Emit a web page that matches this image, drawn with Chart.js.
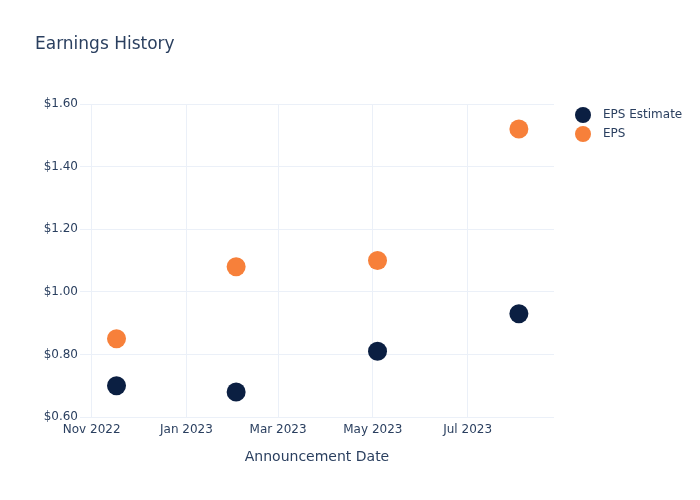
<!DOCTYPE html>
<html>
<head>
<meta charset="utf-8">
<script src="https://cdn.jsdelivr.net/npm/chart.js@4"></script>
<style>
  html, body { margin: 0; padding: 0; background: #fff; }
</style>
</head>
<body>
<canvas id="earnings-chart" width="700" height="500"></canvas>
<script>
// announcement dates and values
const announceDates = ['2022-11-17', '2023-02-02', '2023-05-04', '2023-08-03'];
const epsEstimate = [0.70, 0.68, 0.81, 0.93];
const epsActual = [0.85, 1.08, 1.10, 1.52];
const tickDates = ['2022-11-01', '2023-01-01', '2023-03-01', '2023-05-01', '2023-07-01'];
const tickLabels = ['Nov 2022', 'Jan 2023', 'Mar 2023', 'May 2023', 'Jul 2023'];
const seriesNames = ['EPS Estimate', 'EPS'];
const seriesColors = ['#0b1f42', '#f7803a'];

const textColor = '#2a3f5f';
const gridColor = '#ebf0f8';
const fontFamily = '"DejaVu Sans", Verdana, sans-serif';

// day number from a yyyy-mm-dd string
function dayNum(s) {
    const p = s.split('-').map(Number);
    return Date.UTC(p[0], p[1] - 1, p[2]) / 86400000;
}

const xStart = dayNum(tickDates[0]);

function points(values) {
    return announceDates.map((d, i) => ({ x: dayNum(d), y: values[i] }));
}

// title and legend drawn the plotly way
const decorations = {
    id: 'decorations',
    afterDraw(chart) {
        const ctx = chart.ctx;
        ctx.save();
        ctx.fillStyle = textColor;
        ctx.font = '17px ' + fontFamily;
        ctx.textBaseline = 'middle';
        ctx.textAlign = 'left';
        ctx.fillText('Earnings History', 35, 45);

        ctx.font = '12px ' + fontFamily;
        seriesNames.forEach((name, i) => {
            const y = 115 + i * 19;
            ctx.beginPath();
            ctx.fillStyle = seriesColors[i];
            ctx.arc(583, y, 8, 0, Math.PI * 2);
            ctx.fill();
            ctx.fillStyle = textColor;
            ctx.fillText(name, 603, y);
        });
        ctx.restore();
    }
};

let earningsChart = new Chart(document.getElementById('earnings-chart').getContext('2d'), {
    type: 'scatter',
    data: {
        datasets: [{
            label: seriesNames[0],
            data: points(epsEstimate),
            backgroundColor: seriesColors[0],
            borderWidth: 0,
            pointRadius: 9.5,
            pointHoverRadius: 9.5
        },
        {
            label: seriesNames[1],
            data: points(epsActual),
            backgroundColor: seriesColors[1],
            borderWidth: 0,
            pointRadius: 9.5,
            pointHoverRadius: 9.5
        }]
    },
    plugins: [decorations],
    options: {
        responsive: false,
        animation: false,
        layout: {
            padding: { left: 0, top: 104, right: 146, bottom: 0 }
        },
        plugins: {
            legend: { display: false },
            tooltip: { enabled: false }
        },
        scales: {
            x: {
                type: 'linear',
                min: xStart - 7.5,
                max: xStart + 297.6,
                afterFit: s => { s.height = 83; },
                afterBuildTicks: s => {
                    s.ticks = tickDates.map(d => ({ value: dayNum(d) }));
                },
                ticks: {
                    color: textColor,
                    font: { family: fontFamily, size: 12 },
                    padding: 6,
                    maxRotation: 0,
                    callback: v => tickLabels[tickDates.findIndex(d => dayNum(d) === v)]
                },
                grid: { color: gridColor, drawTicks: false },
                border: { display: false },
                title: {
                    display: true,
                    text: 'Announcement Date',
                    color: textColor,
                    font: { family: fontFamily, size: 14 },
                    padding: { top: 0, bottom: 34 }
                }
            },
            y: {
                min: 0.6,
                max: 1.6,
                afterFit: s => { s.width = 80; },
                ticks: {
                    stepSize: 0.2,
                    color: textColor,
                    font: { family: fontFamily, size: 12 },
                    padding: 2,
                    callback: v => '$' + v.toFixed(2)
                },
                grid: { color: gridColor, drawTicks: false },
                border: { display: false }
            }
        }
    }
});
</script>
</body>
</html>
